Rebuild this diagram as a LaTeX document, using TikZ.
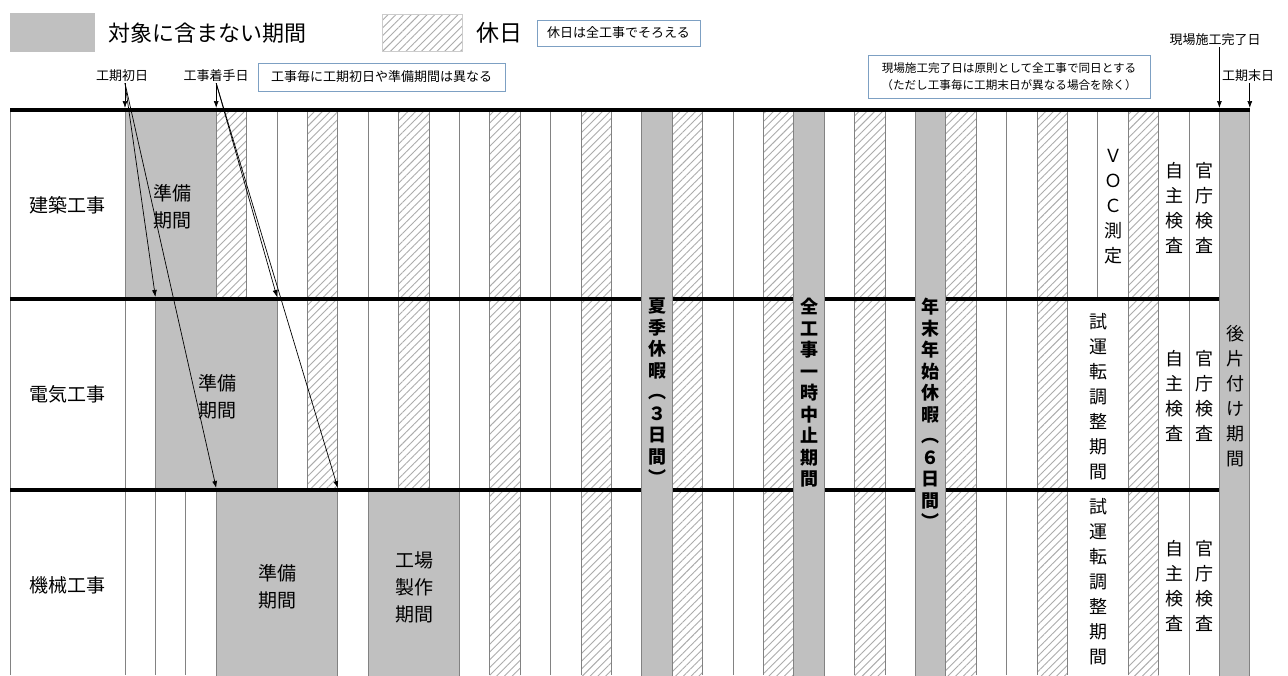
\documentclass[tikz,border=0pt]{standalone}
\usepackage{fontspec}
\setmainfont{Noto Sans CJK JP}
\usetikzlibrary{patterns.meta,arrows.meta}
\definecolor{boxblue}{RGB}{125,160,195}
\definecolor{cellgray}{RGB}{192,192,192}
\definecolor{gridgray}{RGB}{130,130,130}
\begin{document}
\begin{tikzpicture}[x=1pt,y=-1pt,
  hatch/.style={pattern={Lines[angle=45,distance=5.5pt,line width=0.9pt]},pattern color=gray!65},
  cellg/.style={fill=cellgray,draw=gridgray,line width=0.8pt},
  vline/.style={draw=gridgray,line width=0.9pt},
  rowline/.style={draw=black,line width=3.5pt},
  note/.style={draw=boxblue,line width=0.9pt,fill=white,inner sep=2pt},
  lbl/.style={font=\fontsize{13}{15}\selectfont,inner sep=1pt},
  arr/.style={-{Latex[length=7pt,width=5pt]},line width=0.7pt},
  rowlab/.style={font=\fontsize{19}{22}\selectfont},
  prep/.style={align=center,font=\fontsize{19}{27}\selectfont,inner sep=0pt},
  vt/.style={align=center,font=\fontsize{18}{25}\selectfont,inner sep=0pt},
  vtb/.style={align=center,font=\fontsize{18}{21.5}\selectfont\bfseries,inner sep=0pt,anchor=north},
]
\useasboundingbox (0,0) rectangle (1288,675);
\fill[white] (0,0) rectangle (1288,675);

% hatched holiday columns
\foreach \i in {3,6,...,33} {
  \pgfmathsetmacro\xa{125+30.4*\i}
  \pgfmathsetmacro\xb{125+30.4*(\i+1)}
  \fill[hatch] (\xa,110) rectangle (\xb,675);
}
% vertical grid lines
\draw[vline] (10,110) -- (10,675);
\foreach \i in {0,...,36} {
  \pgfmathsetmacro\xa{125+30.4*\i}
  \ifnum\i=32
    \draw[vline] (\xa,110) -- (\xa,299);
  \else
    \draw[vline] (\xa,110) -- (\xa,675);
  \fi
}
% preparation / factory periods
\draw[cellg] (125,110) rectangle (216.2,299);
\draw[cellg] (155.4,299) rectangle (277,490);
\draw[cellg] (216.2,490) rectangle (337.8,676);
\draw[cellg] (368.2,490) rectangle (459.4,676);
% row lines
\draw[rowline] (10,299) -- (1219.4,299);
\draw[rowline] (10,490) -- (1219.4,490);
% full-height gray columns
\draw[cellg] (641.8,110) rectangle (672.2,676);
\draw[cellg] (793.8,110) rectangle (824.2,676);
\draw[cellg] (915.4,110) rectangle (945.8,676);
\draw[cellg] (1219.4,110) rectangle (1249.8,676);
% top line
\draw[rowline] (10,110) -- (1249.8,110);

% legend
\node[fill=cellgray,minimum width=85pt,minimum height=39pt,inner sep=0pt] (lg1) at (52.5,32.5) {};
\node[anchor=west,font=\fontsize{22}{24}\selectfont,inner sep=0pt] (lt1) at (108,33) {対象に含まない期間};
\node[hatch,draw=gray!40,minimum width=80pt,minimum height=37pt,inner sep=0pt] (lg2) at (422,32.5) {};
\node[anchor=west,font=\fontsize{23}{25}\selectfont,inner sep=0pt] (lt2) at (476,33) {休日};
\node[note,minimum width=163pt,minimum height=26pt,font=\fontsize{13}{15}\selectfont] (n1) at (618.5,33) {休日は全工事でそろえる};
\node[note,minimum width=247pt,minimum height=28pt,font=\fontsize{13}{15}\selectfont] (n2) at (381.5,77) {工事毎に工期初日や準備期間は異なる};
\node[note,minimum width=282pt,minimum height=43pt,align=center,font=\fontsize{11.6}{17}\selectfont] (n3) at (1009,76.5) {現場施工完了日は原則として全工事で同日とする\\（ただし工事毎に工期末日が異なる場合を除く）};

% row labels
\node[rowlab] (r1) at (67,205) {建築工事};
\node[rowlab] (r2) at (67,394) {電気工事};
\node[rowlab] (r3) at (67,585) {機械工事};

% period texts
\node[prep] (p1) at (172,207) {準備\\期間};
\node[prep] (p2) at (217,397) {準備\\期間};
\node[prep] (p3) at (277,587) {準備\\期間};
\node[prep] (p4) at (414,587) {工場\\製作\\期間};

% right-side columns
\node[vt] (voc) at (1113,207) {Ｖ\\Ｏ\\Ｃ\\測\\定};
\node[vt] (j1) at (1174,208) {自\\主\\検\\査};
\node[vt] (k1) at (1204.5,208) {官\\庁\\検\\査};
\node[vt] (s2) at (1098,397) {試\\運\\転\\調\\整\\期\\間};
\node[vt] (j2) at (1174,396) {自\\主\\検\\査};
\node[vt] (k2) at (1204.5,396) {官\\庁\\検\\査};
\node[vt] (a2) at (1235,396) {後\\片\\付\\け\\期\\間};
\node[vt] (s3) at (1098,582) {試\\運\\転\\調\\整\\期\\間};
\node[vt] (j3) at (1174,586) {自\\主\\検\\査};
\node[vt] (k3) at (1204.5,586) {官\\庁\\検\\査};

% full-height column texts
\node[vtb] (summer) at (657,298) {夏\\季\\休\\暇\\︵\\３\\日\\間\\︶};
\node[vtb] (stop) at (809,298) {全\\工\\事\\一\\時\\中\\止\\期\\間};
\node[vtb] (newyear) at (930.6,298) {年\\末\\年\\始\\休\\暇\\︵\\６\\日\\間\\︶};

% top labels and arrows
\node[lbl] (kisho) at (122,76) {工期初日};
\node[lbl] (chaku) at (216,76) {工事着手日};
\node[lbl] (kanryo) at (1215,40) {現場施工完了日};
\node[lbl] (matsu) at (1248,76) {工期末日};

\coordinate (a0) at (125,108);
\coordinate (a1) at (155.4,297);
\coordinate (a2e) at (216.2,488);
\coordinate (b0) at (216.2,108);
\coordinate (b1) at (277,297);
\coordinate (b2) at (337.8,488);
\coordinate (c0) at (1219.4,108);
\coordinate (d0) at (1249.8,108);

\draw[arr] (kisho.south -| a0) -- (a0);
\draw[arr] (kisho.south -| a0) -- (a1);
\draw[arr] (kisho.south -| a0) -- (a2e);
\draw[arr] (chaku.south -| b0) -- (b0);
\draw[arr] (chaku.south -| b0) -- (b1);
\draw[arr] (chaku.south -| b0) -- (b2);
\draw[arr] (kanryo.south -| c0) -- (c0);
\draw[arr] (matsu.south -| d0) -- (d0);
\end{tikzpicture}
\end{document}
